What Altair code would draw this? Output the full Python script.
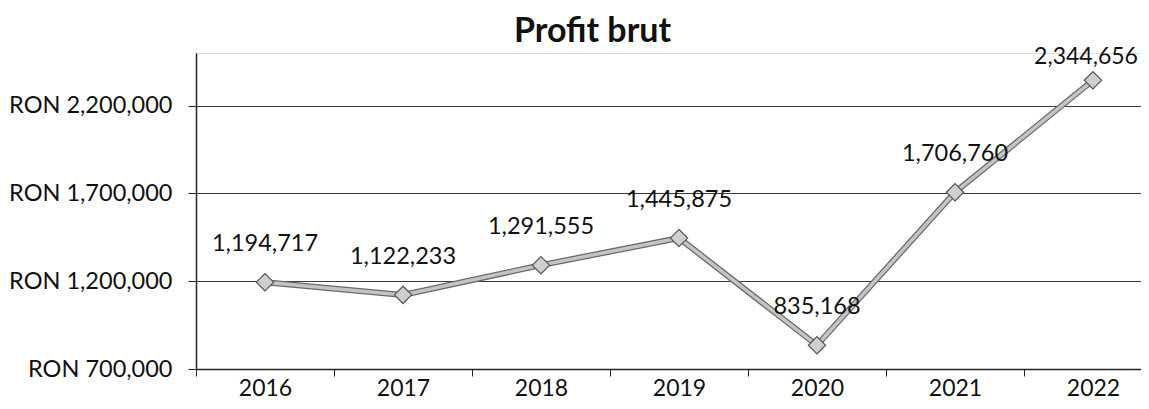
import altair as alt
import pandas as pd

years = ["2016", "2017", "2018", "2019", "2020", "2021", "2022"]
profit = [1194717, 1122233, 1291555, 1445875, 835168, 1706760, 2344656]
y_ticks = [700000, 1200000, 1700000, 2200000]

df = pd.DataFrame({"An": years, "Profit": profit})

FONT = "Lato"
INK = "#111111"

x = alt.X(
    "An:O", title=None, sort=years,
    scale=alt.Scale(paddingInner=0, paddingOuter=0, range=[0, 966]),
    axis=alt.Axis(labelAngle=0, tickBand="extent", ticks=True, tickSize=7,
                  tickColor="#222222", domainColor="#222222", domainWidth=1.5,
                  labelFont=FONT, labelFontSize=23, labelColor=INK,
                  labelPadding=1, grid=False),
)
y = alt.Y(
    "Profit:Q", title=None,
    scale=alt.Scale(domain=[700000, 2500000], nice=False, zero=False),
    axis=alt.Axis(values=y_ticks, labelExpr="'RON ' + format(datum.value, ',')",
                  labelFont=FONT, labelFontSize=23.5, labelColor=INK,
                  labelPadding=16, tickSize=8, tickColor="#222222",
                  domainColor="#222222", domainWidth=1.5,
                  grid=True, gridColor="#3a3a3a", gridWidth=1),
)

base = alt.Chart(df).encode(x=x, y=y)

outline = base.mark_line(color="#6a6a6a", strokeWidth=6)
inner = base.mark_line(color="#c4c4c4", strokeWidth=3.5)
points = base.mark_point(shape="diamond", size=300, filled=True,
                         fill="#cfcfcf", stroke="#555555", strokeWidth=1.2, opacity=1)
labels = base.mark_text(dy=-38, font=FONT, fontSize=23.5, color=INK).encode(
    text=alt.Text("Profit:Q", format=",")
).transform_filter("datum.An != '2022'")
label_last = base.mark_text(dy=-23, dx=-7, font=FONT, fontSize=23, color=INK).encode(
    text=alt.Text("Profit:Q", format=",")
).transform_filter("datum.An == '2022'")

chart = alt.layer(outline, inner, points, labels, label_last).properties(
    width=945, height=316,
    autosize=alt.AutoSizeParams(type="none"),
    padding={"left": 188, "top": 45, "right": 0, "bottom": 32},
    title=alt.Title("Profit brut", font=FONT, fontSize=34, fontWeight="bold",
                    anchor="middle", frame="bounds", offset=-3, dx=7, color=INK),
).configure_view(stroke=None).configure(background="white")

chart.save("out.html", embed_options={"renderer": "svg", "actions": False})
